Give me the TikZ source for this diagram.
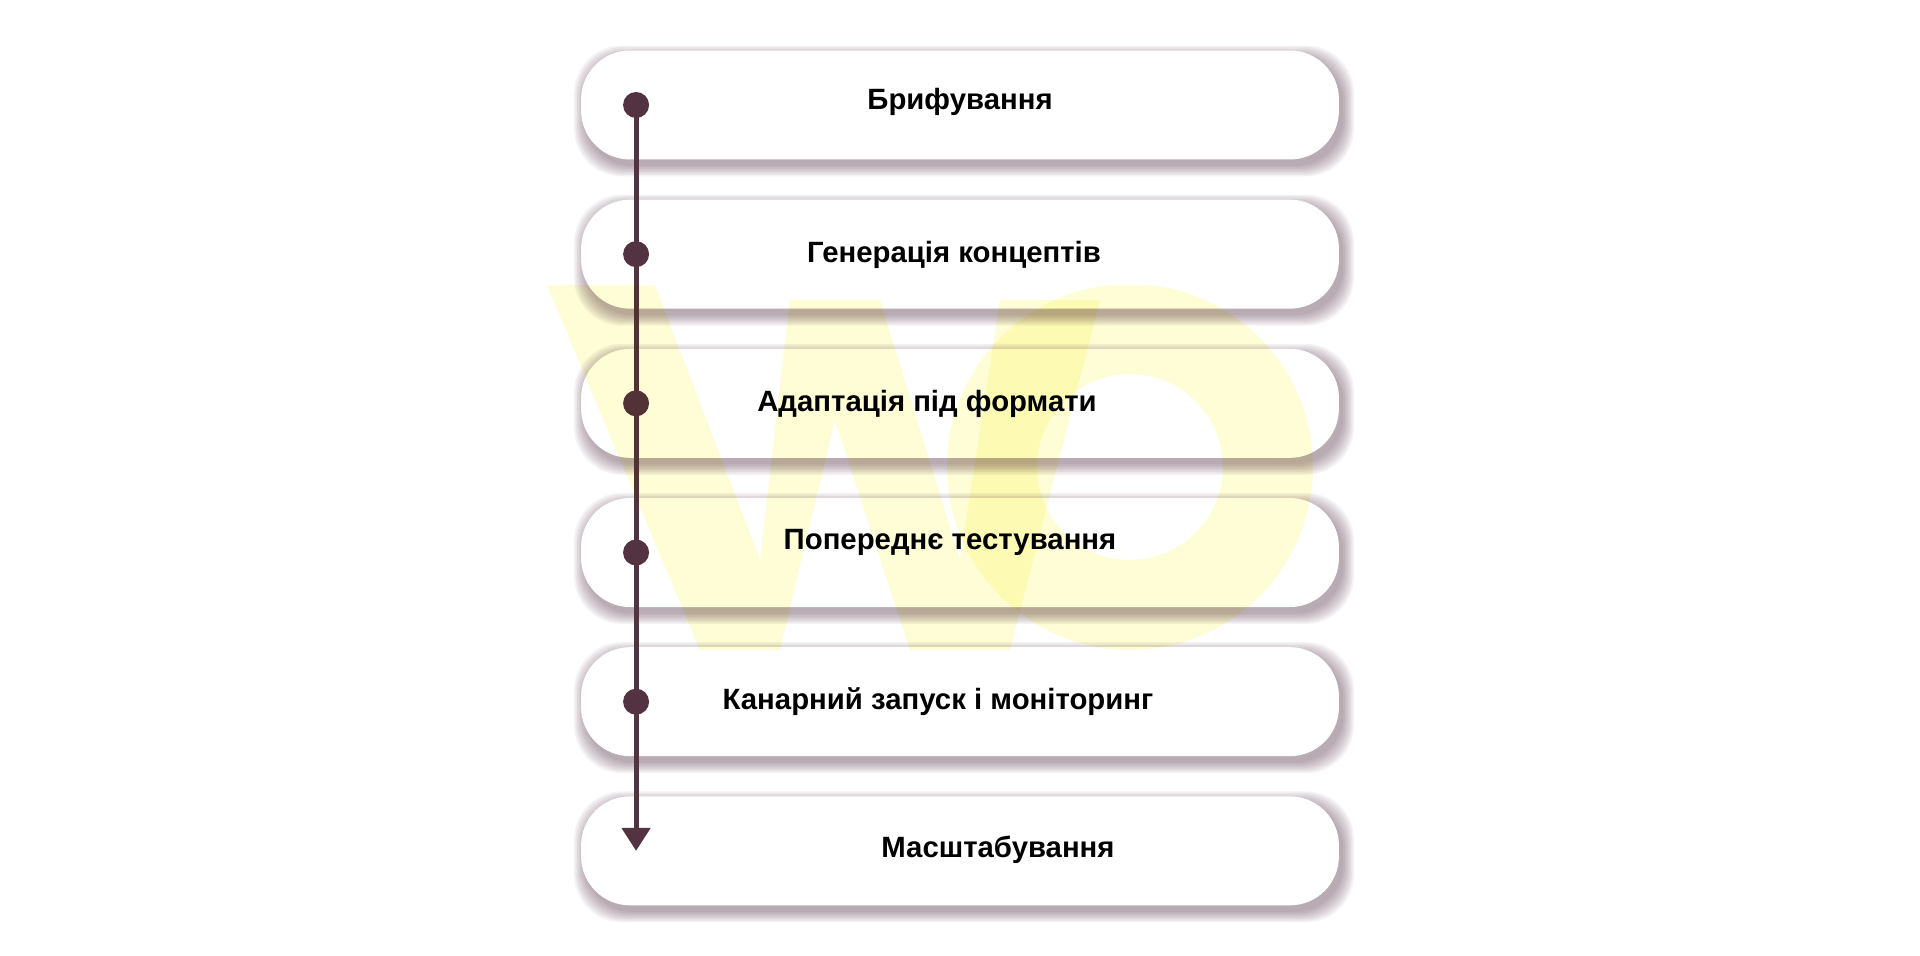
\documentclass[tikz,border=0pt]{standalone}
\usepackage{fontspec}
\setmainfont{Liberation Sans}
\usetikzlibrary{positioning, calc, arrows.meta, backgrounds}
\definecolor{plum}{RGB}{83,51,66}
\definecolor{shadowcol}{RGB}{98,66,86}
\definecolor{wmark}{RGB}{254,253,214}
\pgfdeclarehorizontalshading{stageshade}{100bp}{color(0bp)=(black!5); color(8bp)=(white); color(88bp)=(white); color(100bp)=(black!9)}
\tikzstyle{stage} = [rectangle, rounded corners=0.96cm, minimum width=15.12cm, minimum height=2.14cm, outer sep=0pt, draw=white, line width=0.04cm, shading=stageshade]
\tikzstyle{caption} = [font=\bfseries\fontsize{16.7}{20}\selectfont, text=black]
\tikzstyle{dot} = [circle, fill=plum, minimum size=0.52cm, inner sep=0pt]
\tikzstyle{myarrow} = [-{Triangle[length=0.46cm, width=0.56cm]}, line width=0.1cm, draw=plum]

\begin{document}
\begin{tikzpicture}[x=0.02cm, y=-0.02cm]
\useasboundingbox (0,0) rectangle (1920,956);
\node (stage1) [stage] at (960,105) {};
\node (stage2) [stage, below=0.844cm of stage1] {};
\node (stage3) [stage, below=0.844cm of stage2] {};
\node (stage4) [stage, below=0.844cm of stage3] {};
\node (stage5) [stage, below=0.844cm of stage4] {};
\node (stage6) [stage, below=0.844cm of stage5] {};
% soft shadows under the boxes
\begin{scope}[on background layer]
\foreach \n in {1,...,6}
 \foreach \k in {1,...,8}
  \fill[shadowcol, opacity=0.07, rounded corners=0.96cm] ($(stage\n.south west)+(4-1.5*\k,6+1.5*\k)$) rectangle ($(stage\n.north east)+(4+1.5*\k,6-1.5*\k)$);
\end{scope}
\node (txt1) [caption] at ($(stage1)+(0,-3)$) {Брифування};
\node (txt2) [caption] at ($(stage2)+(-6,1)$) {Генерація концептів};
\node (txt3) [caption] at ($(stage3)+(-33,1)$) {Адаптація під формати};
\node (txt4) [caption] at ($(stage4)+(-10,-10)$) {Попереднє тестування};
\node (txt5) [caption] at ($(stage5)+(-22,0)$) {Канарний запуск і моніторинг};
\node (txt6) [caption] at ($(stage6)+(38,-1)$) {Масштабування};
% timeline
\node (dot1) [dot] at ($(stage1.west)+(54,0)$) {};
\coordinate (tip) at ($(stage6.west)+(54,0)$);
\draw [myarrow] (dot1.center) -- (tip);
\node (dot2) [dot] at ($(stage2.west)+(54,0)$) {};
\node (dot3) [dot] at ($(stage3.west)+(54,0)$) {};
\node (dot4) [dot] at ($(stage4.west)+(54,0)$) {};
\node (dot5) [dot] at ($(stage5.west)+(54,0)$) {};
% faint watermark
\begin{scope}[blend mode=multiply]
\clip (500,285) rectangle (1400,650);
\fill[wmark] (547,285) -- (655,285) -- (760,560) -- (790,300) -- (880,300) -- (960,560) -- (1000,300) -- (1100,300) -- (1010,650) -- (910,650) -- (835,420) -- (780,650) -- (700,650) -- cycle;
\draw[wmark, line width=1.8cm] (1130,467) circle (138);
\end{scope}
\end{tikzpicture}
\end{document}
